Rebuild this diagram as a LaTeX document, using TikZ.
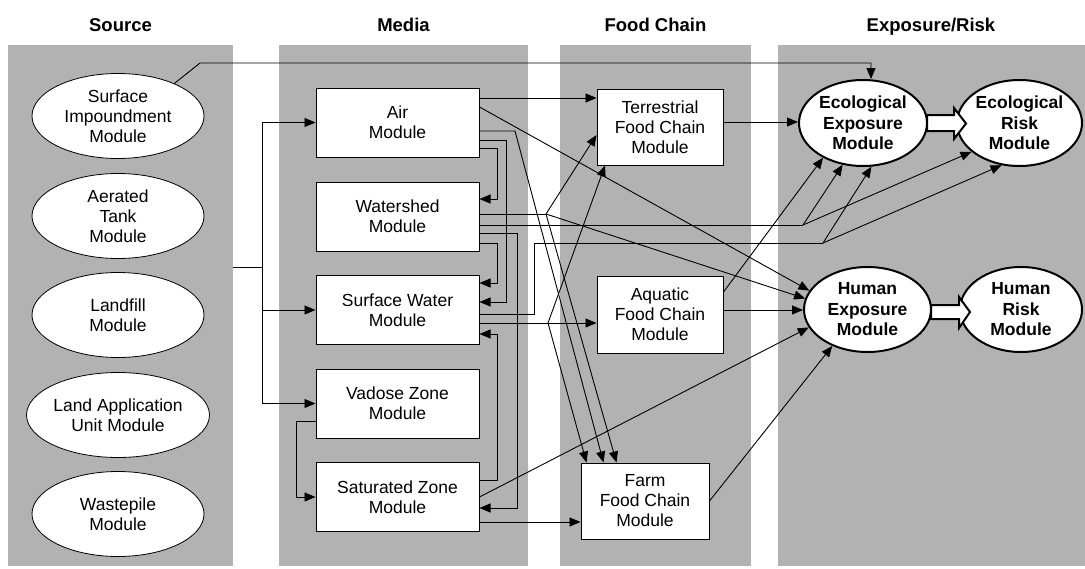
\documentclass[tikz,border=0pt]{standalone}
\usepackage{fontspec}
\setmainfont{Liberation Sans}
\usetikzlibrary{arrows.meta,calc,shapes.geometric}
\definecolor{colgray}{RGB}{178,178,178}
\begin{document}
\begin{tikzpicture}[x=1pt,y=-1pt,
  every node/.style={font=\fontsize{17.5}{20}\selectfont, align=center, inner sep=0pt},
  col/.style={fill=colgray, draw=none, anchor=north west},
  hdr/.style={font=\fontsize{18.5}{22}\selectfont\bfseries, anchor=base},
  src/.style={ellipse, draw, fill=white, line width=0.8pt, minimum width=172pt, minimum height=85pt},
  mbox/.style={rectangle, draw, fill=white, line width=1pt, minimum width=163pt, minimum height=69pt},
  fbox/.style={rectangle, draw, fill=white, line width=1pt, minimum width=126pt, minimum height=76pt},
  expo/.style={ellipse, draw, fill=white, line width=2pt, minimum height=86pt, font=\fontsize{17.5}{20.5}\selectfont\bfseries},
  conn/.style={line width=0.9pt},
  arr/.style={conn, -{Triangle[length=11pt,width=9pt]}},
  fat/.style={draw, fill=white, line width=2pt, line join=miter}
]
\useasboundingbox (0,0) rectangle (1085,568);
% columns
\node[col, minimum width=225pt, minimum height=521pt] (srccol) at (8,45) {};
\node[col, minimum width=249pt, minimum height=521pt] (medcol) at (279,45) {};
\node[col, minimum width=191pt, minimum height=521pt] (foodcol) at (560,45) {};
\node[col, minimum width=307pt, minimum height=521pt] (expcol) at (778,45) {};
% headers
\node[hdr] (hsrc) at (120.5,31) {Source};
\node[hdr] (hmed) at (403.5,31) {Media};
\node[hdr] (hfood) at (655.5,31) {Food Chain};
\node[hdr] (hexp) at (931,31) {Exposure/Risk};
% source modules
\node[src] (si) at (118,116) {Surface\\Impoundment\\Module};
\node[src] (at) at (118,216) {Aerated\\Tank\\Module};
\node[src] (lf) at (118,315) {Landfill\\Module};
\node[src] (la) at (118,415) {Land Application\\Unit Module};
\node[src] (wp) at (118,514) {Wastepile\\Module};
% media modules
\node[mbox] (air) at (397.5,122.5) {Air\\Module};
\node[mbox] (ws) at (397.5,216.5) {Watershed\\Module};
\node[mbox] (sw) at (397.5,310) {Surface Water\\Module};
\node[mbox] (vz) at (397.5,403.5) {Vadose Zone\\Module};
\node[mbox] (sat) at (397.5,497) {Saturated Zone\\Module};
% food chain modules
\node[fbox] (terr) at (660,127) {Terrestrial\\Food Chain\\Module};
\node[fbox, minimum height=77pt] (aq) at (660,314.5) {Aquatic\\Food Chain\\Module};
\node[fbox, minimum width=128pt] (farm) at (645,501) {Farm\\Food Chain\\Module};
% exposure / risk modules
\node[expo, minimum width=128pt] (ee) at (863,123) {Ecological\\Exposure\\Module};
\node[expo, minimum width=125pt] (er) at (1019.5,123) {Ecological\\Risk\\Module};
\node[expo, minimum width=127pt, minimum height=85pt] (he) at (867.5,309.5) {Human\\Exposure\\Module};
\node[expo, minimum width=122pt, minimum height=85pt] (hr) at (1021,309.5) {Human\\Risk\\Module};
% junctions
\coordinate (ksi) at (200,63);
\coordinate (bus) at (262,267);
\coordinate (jair) at (515,131);
\coordinate (jws1) at (546,214);
\coordinate (jws2) at (803,225);
\coordinate (jsw1) at (548,323);
\coordinate (jsw2) at (823,243);
% source connections
\draw[arr] (si.30) -- (ksi) -| ($(ee.north)+(8,0)$);
\draw[conn] (srccol.east |- bus) -- (bus);
\draw[arr] (bus) |- (air.west);
\draw[arr] (bus) |- (sw.west);
\draw[arr] (bus) |- (vz.west);
% air
\draw[arr] ($(air.east)+(0,-24.5)$) -- ($(terr.west)+(0,-29)$);
\draw[arr] ($(air.east)+(0,-15.5)$) -- (he.162);
\draw[arr] ($(air.east)+(0,8.5)$) -- (jair) -- ($(farm.north west)+(23,0)$);
\draw[arr] ($(air.east)+(0,17.5)$) -| ($(sw.east)+(27,-8)$) -- ($(sw.east)+(0,-8)$);
\draw[arr] ($(air.east)+(0,25.5)$) -| ($(ws.east)+(18,-17.5)$) -- ($(ws.east)+(0,-17.5)$);
% watershed
\draw[conn] ($(ws.east)+(0,-2.5)$) -- (jws1);
\draw[arr] (jws1) -- ($(terr.west)+(0,8)$);
\draw[arr] (jws1) -- (he.170);
\draw[arr] (jws1) -- ($(farm.north west)+(36,0)$);
\draw[conn] ($(ws.east)+(0,8.5)$) -- (jws2);
\draw[arr] (jws2) -- (ee.244);
\draw[arr] (jws2) -- (er.211);
\draw[arr] ($(ws.east)+(0,16.5)$) -| ($(sat.east)+(38,11)$) -- ($(sat.east)+(0,11)$);
\draw[arr] ($(ws.east)+(0,26.5)$) -| ($(sw.east)+(18,-27)$) -- ($(sw.east)+(0,-27)$);
% surface water
\draw[conn] ($(sw.east)+(0,4)$) -| ($(ws.east)+(55,26.5)$) -- (jsw2);
\draw[arr] (jsw2) -- (ee.281);
\draw[arr] (jsw2) -- (er.247);
\draw[arr] ($(sw.east)+(0,13)$) -- ($(aq.west)+(0,8.5)$);
\draw[arr] (jsw1) -- ($(terr.south)+(-55,0)$);
\draw[arr] (jsw1) -- ($(farm.north west)+(6,0)$);
% vadose / saturated
\draw[arr] ($(vz.west)+(0,17.5)$) -| ($(sat.west)+(-19,0)$) -- (sat.west);
\draw[arr] ($(sat.east)+(0,-17)$) -| ($(sw.east)+(18,24)$) -- ($(sw.east)+(0,24)$);
\draw[arr] (sat.east) -- (he.197);
\draw[arr] ($(sat.east)+(0,25)$) coordinate (p1) -- (p1 -| farm.west);
% food chain
\draw[arr] ($(terr.east)+(0,-5)$) coordinate (p2) -- (p2 -| ee.west);
\draw[arr] ($(aq.east)+(0,-4.5)$) coordinate (p3) -- (p3 -| he.west);
\draw[arr] ($(aq.east)+(0,-22.5)$) -- (ee.221);
\draw[arr] (farm.east) -- (he.226);
% block arrows exposure -> risk
\draw[fat] ($(ee.east)+(-1,-8)$) -- ++(27,0) -- ++(0,-7) -- ++(12,15.5) -- ++(-12,15.5) -- ++(0,-8) -- ++(-27,0) -- cycle;
\draw[fat] ($(he.east)+(-1,-4.5)$) -- ++(28,0) -- ++(0,-8) -- ++(11,15) -- ++(-11,16) -- ++(0,-9) -- ++(-28,0) -- cycle;
\end{tikzpicture}
\end{document}
